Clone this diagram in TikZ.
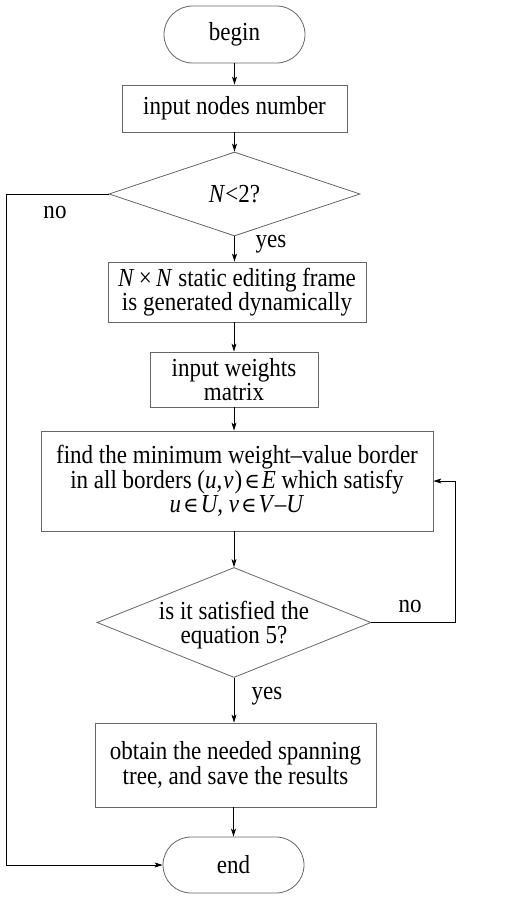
\documentclass[tikz,border=0pt]{standalone}
\usepackage{fontspec}
\setmainfont{Liberation Serif}[FakeStretch=0.885]
\newfontfamily\symfont{DejaVu Serif}
\newcommand{\elem}{\kern2pt{\symfont\fontsize{21}{23.5}\selectfont ∈}\kern2pt}
\usetikzlibrary{shapes.misc,shapes.geometric,arrows.meta}
\begin{document}
\begin{tikzpicture}[x=1pt,y=-1pt,
  every node/.style={font=\fontsize{26}{23.5}\selectfont},
  boxframe/.style={draw=black!60, line width=0.8pt, rectangle, inner sep=0pt, align=center},
  termframe/.style={draw=black!60, line width=0.8pt, rounded rectangle, inner sep=0pt},
  decframe/.style={draw=black!60, line width=0.8pt, diamond, inner sep=0pt},
  txt/.style={inner sep=0pt, align=center},
  arr/.style={draw=black, line width=0.8pt, -{Stealth[length=8pt,width=5pt,inset=2pt]}},
  lbl/.style={inner sep=0pt}
]
\useasboundingbox (0,0) rectangle (523,899);
\fill[white] (0,0) rectangle (523,899);

\node[termframe, minimum width=141pt, minimum height=57pt] (begin) at (234.5,34.5) {begin};
\node[boxframe, minimum width=225pt, minimum height=47pt] (inp) at (234.5,108.5) {input nodes number};
\node[decframe, minimum width=251pt, minimum height=84pt] (d1) at (234.5,194) {};
\node[txt] (d1t) at (234.5,194) {\textit{N}<2?};
\node[boxframe, minimum width=258pt, minimum height=60pt] (nxn) at (237,292)
  {\textit{N}\,×\,\textit{N} static editing frame\\is generated dynamically};
\node[boxframe, minimum width=168pt, minimum height=55pt] (wts) at (234,379.5)
  {input weights\\matrix};
\node[boxframe, minimum width=392pt, minimum height=100pt] (find) at (237,481)
  {find the minimum weight–value border\\in all borders (\textit{u},\kern1pt\textit{v}\kern1pt)\elem\textit{E} which satisfy\\\textit{u}\elem\textit{U}, \textit{v}\elem\textit{V}–\textit{U}};
\node[decframe, minimum width=274pt, minimum height=110pt] (d2) at (234,622.5) {};
\node[txt] (d2t) at (234,625) {is it satisfied the\\equation 5?};
\node[boxframe, minimum width=281pt, minimum height=84pt] (obt) at (235.5,765)
  {obtain the needed spanning\\tree, and save the results};
\node[termframe, minimum width=141pt, minimum height=56pt] (end) at (233.5,865) {end};

\coordinate (L) at (6,194);
\coordinate (R) at (455,622.5);

\draw[arr] (begin.south) -- (begin.south |- inp.north);
\draw[arr] (inp.south) -- (inp.south |- d1.north);
\draw[arr] (d1.south) -- (d1.south |- nxn.north);
\draw[arr] (wts.north |- nxn.south) -- (wts.north);
\draw[arr] (wts.south) -- (wts.south |- find.north);
\draw[arr] (d2.north |- find.south) -- (d2.north);
\draw[arr] (d2.south) -- (d2.south |- obt.north);
\draw[arr] (end.north |- obt.south) -- (end.north);
\draw[arr] (d1.west) -- (L) |- (end.west);
\draw[arr] (d2.east) -- (R) |- (find.east);

\node[lbl] (no1) at (55,212) {no};
\node[lbl] (yes1) at (271,244) {yes};
\node[lbl] (no2) at (410,606) {no};
\node[lbl] (yes2) at (267,696) {yes};
\end{tikzpicture}
\end{document}
